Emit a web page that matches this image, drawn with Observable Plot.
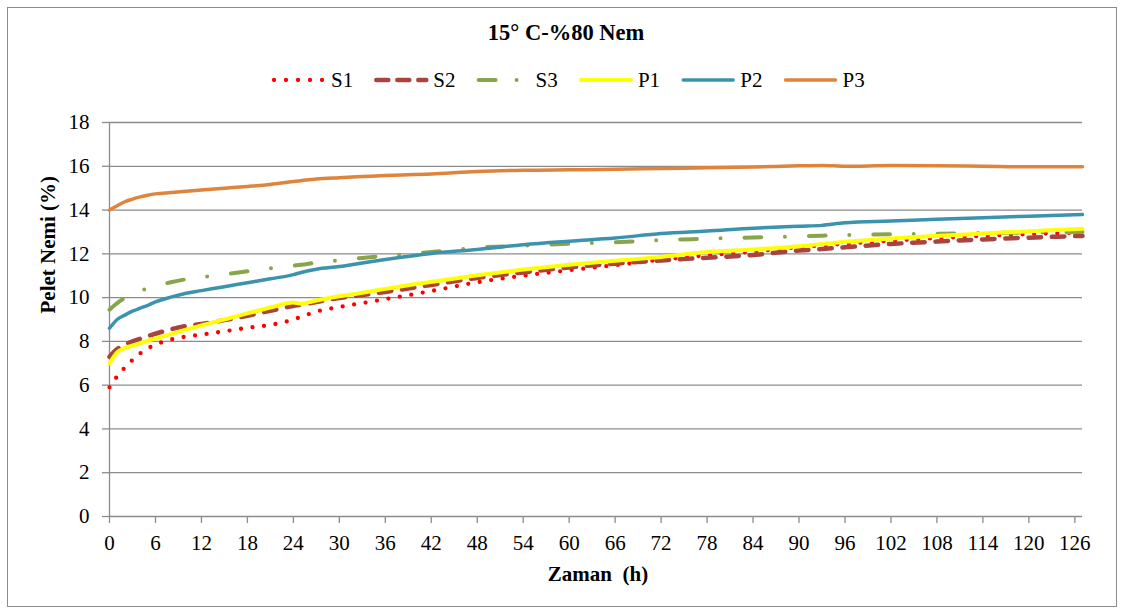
<!DOCTYPE html>
<html>
<head>
<meta charset="utf-8">
<script src="https://cdn.jsdelivr.net/npm/d3@7"></script>
<script src="https://cdn.jsdelivr.net/npm/@observablehq/plot@0.6"></script>
<style>
  body { margin: 0; background: #fff; }
  #chart { position: relative; width: 1124px; height: 613px; font-family: "Liberation Serif", "Times New Roman", serif; color: #000; }
  #chart > svg.main { position: absolute; left: 0; top: 0; }
  #frame { position: absolute; left: 7px; top: 7px; width: 1110px; height: 600px; border: 1px solid #8c8c8c; box-sizing: border-box; }
  #title { position: absolute; left: 0; top: 20px; width: 1132px; text-align: center; font-size: 22.5px; font-weight: bold; line-height: 26px; }
  #chart > svg#legend { position: absolute; left: 0; top: 60px; }
</style>
</head>
<body>
<div id="chart">
  <div id="frame"></div>
</div>
<script>
// Sampling times (h)
const hours = [0, 1, 2, 3, 4, 5, 6, 8, 10, 12, 15, 18, 21, 24, 25, 27, 30, 33, 36, 42, 48, 54, 60, 66, 72, 78, 84, 90, 93, 96, 102, 108, 114, 120, 127];

// Pellet moisture (%) per sample
const S1 = [5.9, 6.4, 6.8, 7.15, 7.45, 7.68, 7.85, 8.08, 8.22, 8.31, 8.46, 8.62, 8.75, 9.0, 9.12, 9.36, 9.57, 9.75, 9.93, 10.3, 10.7, 11.0, 11.25, 11.48, 11.73, 11.93, 12.1, 12.3, 12.38, 12.46, 12.6, 12.72, 12.82, 12.9, 12.97];
const S2 = [7.3, 7.65, 7.85, 8.0, 8.12, 8.24, 8.35, 8.55, 8.7, 8.8, 8.97, 9.17, 9.4, 9.62, 9.67, 9.8, 9.98, 10.12, 10.26, 10.58, 10.9, 11.15, 11.38, 11.55, 11.7, 11.82, 11.95, 12.15, 12.22, 12.3, 12.45, 12.56, 12.66, 12.74, 12.82];
const S3 = [9.45, 9.75, 9.98, 10.15, 10.3, 10.42, 10.52, 10.7, 10.84, 10.93, 11.06, 11.2, 11.34, 11.46, 11.5, 11.6, 11.7, 11.81, 11.91, 12.08, 12.28, 12.37, 12.46, 12.53, 12.63, 12.69, 12.75, 12.8, 12.83, 12.86, 12.9, 12.92, 12.95, 12.97, 13.0];
const P1 = [7.0, 7.5, 7.7, 7.8, 7.92, 8.03, 8.13, 8.33, 8.54, 8.73, 9.0, 9.28, 9.55, 9.78, 9.72, 9.87, 10.06, 10.22, 10.4, 10.72, 11.02, 11.28, 11.5, 11.68, 11.86, 12.08, 12.2, 12.35, 12.45, 12.55, 12.7, 12.82, 12.93, 13.03, 13.15];
const P2 = [8.6, 9.0, 9.2, 9.38, 9.52, 9.65, 9.8, 10.02, 10.2, 10.32, 10.5, 10.68, 10.86, 11.05, 11.15, 11.3, 11.42, 11.58, 11.74, 12.02, 12.2, 12.42, 12.58, 12.72, 12.93, 13.04, 13.17, 13.26, 13.3, 13.42, 13.5, 13.58, 13.65, 13.72, 13.8];
const P3 = [14.0, 14.2, 14.38, 14.5, 14.6, 14.68, 14.74, 14.8, 14.86, 14.92, 15.0, 15.08, 15.17, 15.3, 15.34, 15.42, 15.48, 15.53, 15.58, 15.65, 15.76, 15.82, 15.84, 15.86, 15.9, 15.93, 15.97, 16.02, 16.04, 16.0, 16.03, 16.02, 16.0, 15.98, 15.98];

const seriesNames = ["S1", "S2", "S3", "P1", "P2", "P3"];
const seriesValues = [S1, S2, S3, P1, P2, P3];
const seriesColors = ["#FF0000", "#A84340", "#89A54B", "#FFFF00", "#3B93AD", "#DE843C"];

const xTicks = d3.range(0, 127, 6);
const yTicks = d3.range(0, 19, 2);

// Line styles: width and dash pattern per series
const styles = {
  S1: { width: 4.3, dash: "0 11.6", legendDash: "0 12" },
  S2: { width: 4.5, dash: "12.5 10.8", legendDash: "12 9" },
  S3: { width: 4, dash: "16.7 23.7 0 24", legendDash: "17 21 0 20" },
  P1: { width: 4, dash: null, legendDash: null },
  P2: { width: 3.5, dash: null, legendDash: null },
  P3: { width: 3.5, dash: null, legendDash: null }
};

const rows = seriesNames.flatMap((name, i) =>
  hours.map((h, j) => ({ series: name, h, v: seriesValues[i][j] }))
);

const gray = "#8c8c8c";
const font = "Liberation Serif, Times New Roman, serif";

const lines = seriesNames.map((name, i) =>
  Plot.line(rows.filter(d => d.series === name), {
    x: "h",
    y: "v",
    stroke: seriesColors[i],
    strokeWidth: styles[name].width,
    strokeDasharray: styles[name].dash,
    strokeLinecap: "round",
    strokeLinejoin: "round",
    curve: "monotone-x"
  })
);

const plot = Plot.plot({
  width: 1124,
  height: 613,
  marginLeft: 109,
  marginRight: 42,
  marginTop: 122,
  marginBottom: 97,
  style: { fontFamily: font, fontSize: "21px", background: "transparent", color: "#000" },
  x: { domain: [0, 127] },
  y: { domain: [0, 18] },
  marks: [
    Plot.gridY(yTicks.filter(t => t > 0), { stroke: gray, strokeOpacity: 1, strokeWidth: 1.3 }),
    Plot.ruleY([0], { stroke: gray, strokeWidth: 1.3 }),
    Plot.ruleX([0], { stroke: gray, strokeWidth: 1.3 }),
    Plot.axisX({ ticks: xTicks, tickSize: 7, tickPadding: 12, stroke: gray, strokeWidth: 1.3, label: null, fill: "#000" }),
    Plot.axisY({ ticks: yTicks, tickSize: 7, tickPadding: 13, stroke: gray, strokeWidth: 1.3, label: null, fill: "#000" }),
    Plot.text(["Pelet Nemi (%)"], { frameAnchor: "left", dx: -61, dy: -6, rotate: -90, fontWeight: "bold", fontSize: 21, fill: "#000" }),
    Plot.text(["Zaman  (h)"], { frameAnchor: "bottom", dx: 2, dy: 64, fontWeight: "bold", fontSize: 21, fill: "#000", style: "white-space: pre" }),
    ...lines
  ]
});
plot.classList.add("main");

const chart = document.getElementById("chart");
chart.appendChild(plot);

// Title
const title = document.createElement("div");
title.id = "title";
title.textContent = "15° C-%80 Nem";
chart.appendChild(title);

// Legend
const legend = d3.create("svg")
  .attr("id", "legend")
  .attr("width", 1124)
  .attr("height", 40);
const item = legend.selectAll("g")
  .data(seriesNames)
  .join("g")
  .attr("transform", (d, i) => `translate(${274 + i * 102.3},20)`);
item.append("line")
  .attr("x1", 0).attr("x2", 50)
  .attr("stroke", (d, i) => seriesColors[i])
  .attr("stroke-width", d => styles[d].width)
  .attr("stroke-dasharray", d => styles[d].legendDash)
  .attr("stroke-linecap", "round");
item.append("text")
  .attr("x", 57)
  .attr("dy", "0.35em")
  .attr("font-family", font)
  .attr("font-size", 21)
  .text(d => d);
chart.appendChild(legend.node());
</script>
</body>
</html>
